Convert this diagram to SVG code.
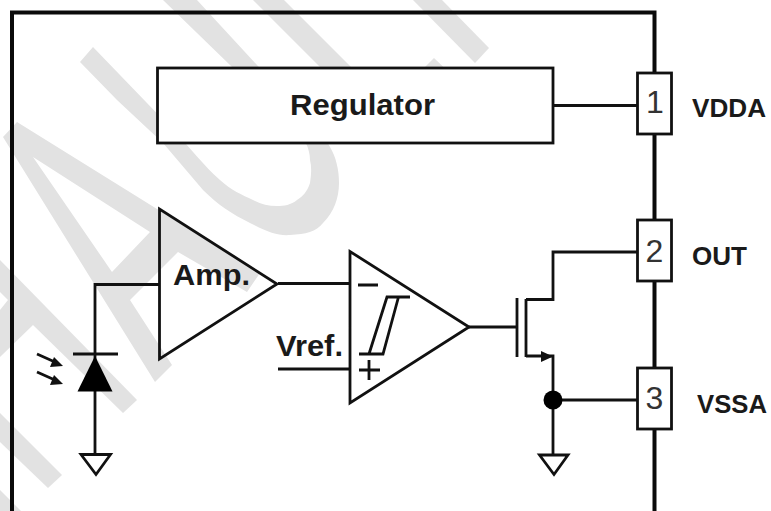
<svg xmlns="http://www.w3.org/2000/svg" width="771" height="511" viewBox="0 0 771 511">
<style>
.wf{fill:#e2e2e2;fill-rule:evenodd}
.ln{fill:none;stroke:#111;stroke-width:2.800;stroke-linejoin:miter}
.sh{fill:#fff;stroke:#111;stroke-width:2.800}
.tr{fill:none;stroke:#111;stroke-width:2.800}
.fr{fill:none;stroke:#0a0a0a;stroke-width:4}
.lb{font-family:"Liberation Sans",Arial,sans-serif;font-weight:700;fill:#1a1a1a}
.pn{font-family:"Liberation Sans",Arial,sans-serif;fill:#333;font-size:32px;text-anchor:middle}
</style>
<rect width="771" height="511" fill="#fff"/>
<g id="watermark">
<path class="wf" d="M3 137L17 122L260 273L247 292L178 252L130 300L172 365L155 382ZM33 157L112 272L150 232Z"/>
<polygon class="wf" points="0,260 137,400 123,413 33,325 0,357 0,310 8,300 0,292"/>
<polygon class="wf" points="0,413 62,475 48,488 0,442"/>
<polygon class="wf" points="0,490 21,511 0,511"/>
<path class="wf" d="M80 62L117 100L163 143L203 190C218 205 232 214 250 223C268 232 278 236 290 235C306 234 316 232 323 223C334 212 339 198 339 183C339 170 336 157 330 147C326 139 322 135 317 130L197 0H163L297 130C304 138 310 148 310 160C312 168 311 176 310 183C307 192 303 196 297 200C291 205 284 206 277 206C268 206 261 204 253 200C242 195 231 190 220 180C204 166 188 145 173 130L93 47Z"/>
<polygon class="wf" points="253,0 395,142 457,80 434,58 388,104 284,0"/>
<polygon class="wf" points="413,0 442,0 489,48 475,63"/>
</g>
<g id="frame"><path class="fr" d="M12 511V12.500H654.500V511"/></g>
<g id="connectors">
<path class="ln" d="M553 105.500H637M95 354V284.500H160M95 354V454M278 283.500H350M278 369H350M469 327H517M526 299.500H553V252H637M526 356H553V454M553 400H637"/>
</g>
<g id="regulator"><rect class="sh" x="157.500" y="68" width="395.500" height="75"/><text class="lb" x="290" y="115" font-size="30" textLength="145" lengthAdjust="spacingAndGlyphs">Regulator</text></g>
<g id="pin1"><rect class="sh" x="637.500" y="73" width="34" height="61"/><text class="pn" x="655" y="113">1</text><text class="lb" x="692" y="117" font-size="26" textLength="74" lengthAdjust="spacingAndGlyphs">VDDA</text></g>
<g id="pin2"><rect class="sh" x="637.500" y="220" width="34" height="61"/><text class="pn" x="654.500" y="262">2</text><text class="lb" x="692" y="265" font-size="26" textLength="55" lengthAdjust="spacingAndGlyphs">OUT</text></g>
<g id="pin3"><rect class="sh" x="637.500" y="368" width="34" height="61"/><text class="pn" x="654.500" y="409">3</text><text class="lb" x="697" y="413" font-size="26" textLength="70" lengthAdjust="spacingAndGlyphs">VSSA</text></g>
<g id="amp"><polygon class="tr" points="159.500,209 159.500,359 277,284"/><text class="lb" x="173" y="284.500" font-size="30" textLength="77" lengthAdjust="spacingAndGlyphs">Amp.</text></g>
<g id="photodiode">
<path class="ln" d="M73 354H118"/>
<polygon fill="#000" points="95,356 77.500,391.500 112.500,391.500"/>
<path class="ln" d="M37 354L56 362.500M37 372L56 380.500"/>
<polygon fill="#111" points="63,366 50,367 54,357"/>
<polygon fill="#111" points="63,384 50,385 54,375"/>
</g>
<g id="gnd1"><polygon class="sh" points="81,454.500 110.500,454.500 96,474.500"/></g>
<g id="comparator">
<polygon class="tr" points="350,251.500 350,403 469,327"/>
<path class="ln" d="M358 285H378M359 370H380M369 360V380M410 297H387L369 354M398.500 297L383 354H359"/>
<text class="lb" x="276" y="356" font-size="30" textLength="67" lengthAdjust="spacingAndGlyphs">Vref.</text>
</g>
<g id="mosfet">
<path class="ln" d="M517 298V357M526 299V357"/>
<polygon fill="#111" points="553,356.500 541,351 541,362"/>
</g>
<g id="junction"><circle cx="553" cy="400" r="9.500" fill="#000"/></g>
<g id="gnd2"><polygon class="sh" points="539.500,455 568,455 554,474.500"/></g>
</svg>
